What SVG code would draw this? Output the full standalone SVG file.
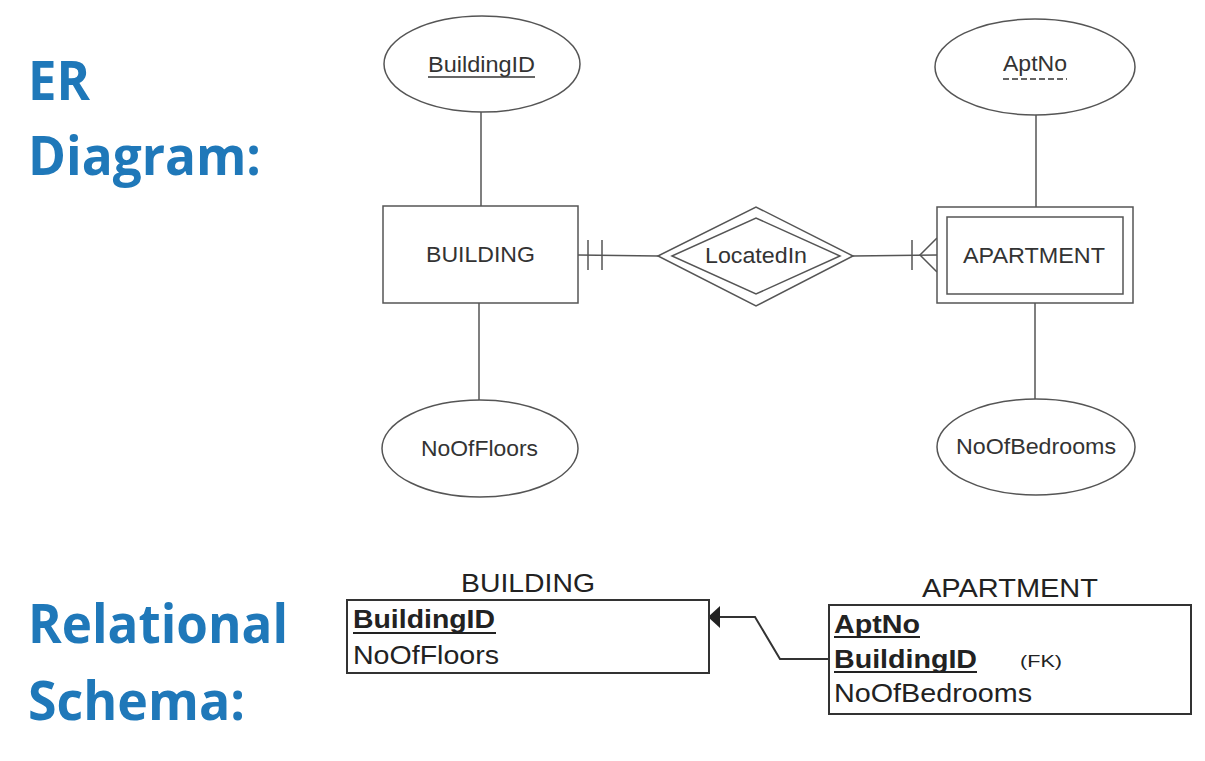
<svg xmlns="http://www.w3.org/2000/svg" width="1205" height="761" viewBox="0 0 1205 761">
<defs>
<style>
.title{font-family:"Open Sans","Liberation Sans",sans-serif;font-weight:700;font-size:53px;fill:#1f78b9}
.er{font-family:"Liberation Sans",Arial,sans-serif;font-size:22px;fill:#333}
.rel{font-family:"Liberation Sans",Arial,sans-serif;font-size:25px;fill:#222}
.b{font-weight:700}
.shape{fill:#fff;stroke:#555;stroke-width:1.5}
.tbl{fill:#fff;stroke:#333;stroke-width:2}
.ln{fill:none;stroke:#555;stroke-width:1.5}
.rl{fill:none;stroke:#333;stroke-width:2}
.ul{stroke:#333;stroke-width:1.5}
.ulb{stroke:#222;stroke-width:2}
</style>
<marker id="arr" viewBox="0 0 12 22" refX="0" refY="11" markerWidth="12" markerHeight="22" markerUnits="userSpaceOnUse" orient="auto">
<path d="M12,11 L0,0 L0,22 Z" fill="#222"/>
</marker>
</defs>
<rect width="1205" height="761" fill="#fff"/>

<g id="titles">
<text class="title" x="28" y="100" textLength="62" lengthAdjust="spacingAndGlyphs">ER</text>
<text class="title" x="28" y="175" textLength="233" lengthAdjust="spacingAndGlyphs">Diagram:</text>
<text class="title" x="28" y="643" textLength="260" lengthAdjust="spacingAndGlyphs">Relational</text>
<text class="title" x="28" y="720" textLength="217" lengthAdjust="spacingAndGlyphs">Schema:</text>
</g>

<g id="connectors">
<line class="ln" x1="481" y1="112" x2="481" y2="206"/>
<line class="ln" x1="479" y1="303" x2="479" y2="400"/>
<line class="ln" x1="1036" y1="115" x2="1036" y2="207"/>
<line class="ln" x1="1035" y1="303" x2="1035" y2="399"/>
<line class="ln" x1="578" y1="255" x2="658" y2="256"/>
<line class="ln" x1="588" y1="240" x2="588" y2="270"/>
<line class="ln" x1="602" y1="240" x2="602" y2="270"/>
<line class="ln" x1="853" y1="256" x2="937" y2="255"/>
<line class="ln" x1="912" y1="240" x2="912" y2="270"/>
<polyline class="ln" points="937,238 920,255 937,272"/>
<polyline class="rl" points="829,659 780,659 755,617 720,617" marker-end="url(#arr)"/>
</g>

<g id="attr-buildingid">
<ellipse class="shape" cx="482" cy="64" rx="98" ry="48"/>
<text class="er" x="428" y="72" textLength="107" lengthAdjust="spacingAndGlyphs">BuildingID</text>
<line class="ul" x1="428" y1="77" x2="535" y2="77"/>
</g>

<g id="entity-building">
<rect class="shape" x="383" y="206" width="195" height="97"/>
<text class="er" x="426" y="262" textLength="109" lengthAdjust="spacingAndGlyphs">BUILDING</text>
</g>

<g id="attr-noofloors">
<ellipse class="shape" cx="480" cy="448.5" rx="98" ry="48.5"/>
<text class="er" x="421" y="456" textLength="117" lengthAdjust="spacingAndGlyphs">NoOfFloors</text>
</g>

<g id="rel-locatedin">
<polygon class="shape" points="658,256 756,207 853,256 756,306"/>
<polygon class="shape" points="672,256 756,218 840,256 756,294"/>
<text class="er" x="705" y="263" textLength="102" lengthAdjust="spacingAndGlyphs">LocatedIn</text>
</g>

<g id="attr-aptno">
<ellipse class="shape" cx="1035" cy="67" rx="100" ry="48"/>
<text class="er" x="1003" y="71" textLength="64" lengthAdjust="spacingAndGlyphs">AptNo</text>
<line class="ul" x1="1003" y1="79" x2="1067" y2="79" stroke-dasharray="6,3"/>
</g>

<g id="entity-apartment">
<rect class="shape" x="937" y="207" width="196" height="96"/>
<rect class="shape" x="947" y="217" width="176" height="77"/>
<text class="er" x="963" y="263" textLength="142" lengthAdjust="spacingAndGlyphs">APARTMENT</text>
</g>

<g id="attr-noofbedrooms">
<ellipse class="shape" cx="1036" cy="447" rx="99" ry="48"/>
<text class="er" x="956" y="454" textLength="160" lengthAdjust="spacingAndGlyphs">NoOfBedrooms</text>
</g>

<g id="table-building">
<text class="rel" x="461" y="592" textLength="134" lengthAdjust="spacingAndGlyphs">BUILDING</text>
<rect class="tbl" x="347" y="600" width="362" height="73"/>
<text class="rel b" x="353" y="628" textLength="142" lengthAdjust="spacingAndGlyphs">BuildingID</text>
<line class="ulb" x1="353" y1="633" x2="496" y2="633"/>
<text class="rel" x="353" y="664" textLength="146" lengthAdjust="spacingAndGlyphs">NoOfFloors</text>
</g>

<g id="table-apartment">
<text class="rel" x="922" y="597" textLength="176" lengthAdjust="spacingAndGlyphs">APARTMENT</text>
<rect class="tbl" x="829" y="605" width="362" height="109"/>
<text class="rel b" x="834" y="633" textLength="86" lengthAdjust="spacingAndGlyphs">AptNo</text>
<line class="ulb" x1="834" y1="637" x2="920" y2="637"/>
<text class="rel b" x="834" y="668" textLength="143" lengthAdjust="spacingAndGlyphs">BuildingID</text>
<line class="ulb" x1="834" y1="672" x2="977" y2="672"/>
<text class="rel" x="1020" y="667" style="font-size:16px" textLength="42" lengthAdjust="spacingAndGlyphs">(FK)</text>
<text class="rel" x="834" y="702" textLength="198" lengthAdjust="spacingAndGlyphs">NoOfBedrooms</text>
</g>
</svg>
